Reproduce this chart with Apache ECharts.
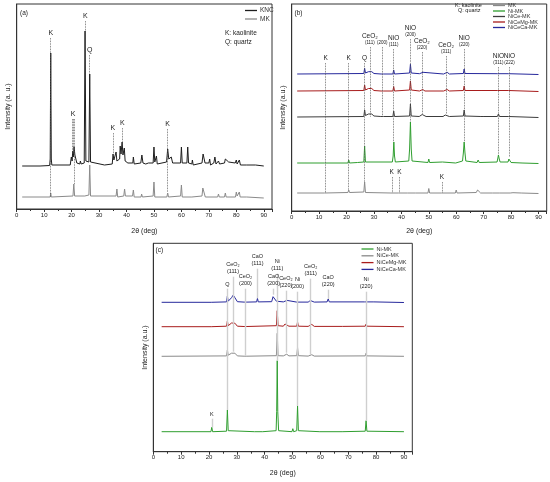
<!DOCTYPE html>
<html>
<head>
<meta charset="utf-8">
<script src="https://cdn.jsdelivr.net/npm/echarts@6/dist/echarts.min.js"></script>
<style>
  html, body { margin: 0; padding: 0; background: #fff; }
  #chart { width: 550px; height: 482px; }
</style>
</head>
<body>
<div id="chart"></div>
<script>
// ---- data: [2theta, intensity (a.u.)] ----
const knc_a = [[2,43],[8.5,43],[8.8,45],[9.1,43],[12,43.5],[12.2,50],[12.4,156],[12.6,50],[12.8,44],[19.5,44],[19.9,52],[20.2,48],[20.4,58],[20.6,52],[20.9,62],[21.2,54],[21.5,56],[21.9,46],[23,45],[23.2,48],[23.5,45],[24.6,46],[24.9,178],[25.2,48],[26.3,47],[26.6,135],[26.9,47],[27.5,45],[32,44],[34.8,45],[35.1,55],[35.4,49],[35.9,50],[36.2,57],[36.5,48],[37.5,50],[37.7,63],[38.0,55],[38.4,67],[38.7,54],[39.2,61],[39.5,48],[40.5,46],[42.3,46],[42.5,52],[42.8,45],[45.2,46],[45.6,54],[46,46],[47,45],[48,46],[49.7,46],[50,62],[50.3,47],[50.7,47],[50.9,53],[51.2,45],[54.6,47],[55,60],[55.4,50],[55.9,48],[56.3,52],[56.8,46],[57.5,45],[59.7,46],[60,62],[60.3,46],[62,46],[62.3,62],[62.6,46],[63.8,45],[64,49],[64.3,44],[67.5,46],[67.9,55],[68.2,54],[68.6,46],[70,46],[70.3,50],[70.6,44],[71.8,46],[72.2,52],[72.6,45],[73.5,48],[73.9,45],[75.7,46],[76,50],[76.6,48],[77.2,47],[77.6,45],[79.6,46],[80,49],[80.3,45],[80.8,46],[81.1,49],[81.5,44],[83.8,44],[84.1,46],[84.4,43],[87,44],[90,43]];
const mk_a = [[2,12],[12.2,12],[12.4,16],[12.6,12],[20.5,13],[20.8,25],[21.1,13],[24.8,13],[25,15],[25.2,14],[26.3,14],[26.6,44],[26.9,13],[36.2,13],[36.5,20],[36.8,12],[39,13],[39.3,20],[39.6,13],[42.2,13],[42.5,19],[42.8,12],[45.3,12],[45.5,15],[45.8,12],[49.7,13],[50,27],[50.3,12],[54.7,12],[55,16],[55.3,12],[59.7,13],[60,24],[60.3,12],[63.8,12],[64,14],[64.3,12],[67.5,13],[67.8,21],[68.3,20],[68.7,12],[73.2,12],[73.5,15],[73.8,12],[75.7,12],[76,16],[76.3,12],[79.7,12],[80,17],[80.3,13],[80.8,13],[81.1,17],[81.4,12],[83.8,12],[84,14],[84.3,12],[90,11]];

const mk_b = [[2,18],[12,18],[20.5,18.5],[20.8,21],[21.1,18.5],[26.3,19],[26.6,29],[26.9,18.5],[36.2,18],[36.5,20],[36.8,18],[39,18],[39.3,20],[39.6,18],[42.2,18],[42.5,19],[42.8,18],[45.2,18],[45.5,18.8],[45.8,18],[49.7,18],[50,22.5],[50.3,18],[54.7,18],[55,19],[55.3,18],[59.7,18],[60,21],[60.3,18],[67.3,18.5],[67.8,21],[68.4,20.5],[68.9,18],[73.2,18],[73.5,19],[73.8,18],[75.7,18],[76,19],[76.3,18],[79.7,18],[80,19],[80.3,18.3],[80.7,18.3],[81,19.5],[81.4,18],[83.7,18],[84,18.7],[84.3,18],[90,17.5]];
const nimk_b = [[2,48],[12,48],[20.5,48],[20.8,51],[21.1,48],[24,48.5],[26.3,49],[26.6,65],[26.9,49],[36.7,49],[37.0,55],[37.25,69],[37.5,55],[37.8,49],[42.7,50],[43.0,62],[43.3,89],[43.6,62],[43.9,50],[49.7,48.5],[50,52],[50.3,48.5],[55,49],[59.8,48],[60,50],[60.3,48],[62.3,50],[62.6,58],[62.9,69],[63.2,58],[63.5,50],[67.6,48.5],[68,51],[68.4,48.5],[74.9,49],[75.2,53],[75.4,56],[75.7,52],[76,49],[78.9,49],[79.2,52],[79.4,54],[79.7,51],[80,48.5],[84,48],[90,47.5]];
const nice_b = [[2,94],[26.3,94.5],[26.6,101],[26.9,95.5],[27.5,95.5],[28.0,97],[28.6,98],[29.2,97],[30,95],[32.5,94.5],[33,96],[33.5,94.5],[36.9,94.5],[37.2,100],[37.5,94.5],[43.0,95],[43.3,107],[43.6,95],[46.5,94.5],[47,96],[47.6,96.5],[48.3,95.5],[49,94.5],[55.2,94.5],[56,96],[56.6,96],[57.5,94.5],[62.6,95],[62.9,101],[63.2,95],[69,94.5],[69.4,95.5],[69.8,94.5],[75,94.5],[75.4,97],[75.8,94.5],[79.1,94.5],[79.4,96.5],[79.8,94.5],[90,93.5]];
const nicemg_b = [[2,120],[26.3,120.5],[26.6,126],[26.9,121],[27.5,121],[28.0,122.5],[28.6,123.5],[29.2,122.5],[30,120.5],[32.6,120],[33,121.5],[33.4,120],[36.9,120],[37.2,124.5],[37.5,120],[43.0,121],[43.3,130],[43.6,121],[46.6,120],[47.2,121.5],[47.8,121.5],[48.6,120],[55.4,120],[56.1,121.5],[56.7,121.5],[57.5,120],[62.6,120.5],[62.9,125],[63.2,120.5],[69.4,120.5],[75.1,120.5],[75.4,122],[75.8,120.5],[79.1,120.5],[79.4,122],[79.8,120.5],[90,119.5]];
const niceca_b = [[2,137],[26.3,137.5],[26.6,142.7],[26.9,138],[27.5,138],[28.0,139.3],[28.6,140.3],[29.2,139.3],[30,137.5],[32.6,137],[33,138],[33.4,137],[36.9,137],[37.2,141],[37.5,137],[43.0,138],[43.3,146.7],[43.6,138],[46.6,137.3],[47.3,138.7],[47.9,138.7],[48.6,137.3],[55.4,137],[56.1,138.7],[56.7,138.7],[57.5,137],[62.6,137.5],[62.9,142],[63.2,137.5],[75.1,137.3],[75.4,138.7],[75.8,137.3],[79.1,137.3],[79.4,138.3],[79.8,137.3],[90,136.5]];

const nimk_c = [[3,20],[20.7,20],[21,24.4],[21.3,20],[26.3,20.5],[26.6,41.7],[26.9,21],[36.3,20],[36.6,21.5],[36.9,20],[39.3,20],[39.6,21],[39.9,20],[44.1,21],[44.3,40],[44.5,91],[44.7,40],[45.0,21],[49.8,20],[50.1,23],[50.4,20],[51.5,21],[51.8,45.7],[52.1,21],[59.8,20],[60.1,21],[60.4,20],[67.8,20],[68.1,21],[68.4,20],[76.1,20.5],[76.4,31],[76.7,20.5],[90,20]];
const nice_c = [[3,95.4],[26.3,95.8],[26.6,101.7],[26.9,96.5],[27.6,96.5],[28.1,98.5],[28.7,99.7],[29.3,98.5],[30.2,95.8],[32.6,95.5],[33.1,97],[33.6,95.5],[44.2,96],[44.5,118.4],[44.8,96],[46.7,95.8],[47.3,97.7],[47.9,97.5],[48.7,95.8],[51.5,96],[51.8,104],[52.1,96],[55.6,95.6],[56.3,97],[56.9,97],[57.8,95.6],[76.1,95.8],[76.4,98.5],[76.7,95.8],[90,95.4]];
const nicemg_c = [[3,125],[20.8,125],[21.0,126],[21.2,125],[26.3,125.5],[26.6,130.7],[26.9,126],[27.6,126.2],[28.1,128.7],[28.7,130.5],[29.3,128.5],[30.2,125.5],[32.6,125.2],[33.1,127.2],[33.6,125.2],[44.2,126],[44.5,141],[44.8,126],[46.7,125.5],[47.3,127.7],[47.9,127.5],[48.7,125.5],[51.5,125.5],[51.8,129.7],[52.1,125.5],[55.6,125.3],[56.3,127.3],[56.9,127.3],[57.8,125.3],[68,125.3],[76.1,125.5],[76.4,127.7],[76.7,125.5],[90,125]];
const niceca_c = [[3,149.4],[20.8,149.4],[21.0,150.4],[21.2,149.4],[26.3,149.8],[26.6,155.7],[26.9,150.5],[27.6,150.7],[28.1,154],[28.7,156.7],[29.3,154],[30.2,150],[32.6,149.6],[33.1,151.5],[33.6,149.6],[37.1,149.8],[37.4,153.4],[37.7,149.8],[42.5,150],[43.0,155],[43.3,157],[43.7,153],[44.2,150.5],[44.5,152],[44.8,150],[46.7,149.8],[47.4,151.5],[48.0,151.3],[48.7,149.8],[51.5,149.6],[51.8,150.8],[52.1,149.6],[55.6,149.6],[56.4,151.2],[57,151.2],[57.8,149.6],[62.4,149.8],[62.8,152.7],[63.2,149.8],[75.8,149.8],[76.4,150.8],[77,149.8],[79.2,149.8],[79.5,150.8],[79.8,149.8],[90,149.2]];

// phase markers: [2theta, top, bottom, phase, reflection]
const marks_a = [[12.4,171,12,'K',''],[20.2,90,55,'',''],[20.55,90,55,'K',''],[20.9,90,25,'',''],[25,188,178,'K',''],[26.6,154,135,'Q',''],[35,76,53,'K',''],[38.5,81,67,'K',''],[55,80,17,'K','']];
const marks_b = [[12.4,148,18,'K',''],[20.8,148,21,'K',''],[26.6,148,29,'Q',''],[28.5,164,94,'CeO₂','(111)'],[33,164,94,'','(200)'],[37.2,162,69,'NiO','(111)'],[43.3,172,89,'NiO','(200)'],[47.5,159,97,'CeO₂','(220)'],[56.3,155,97,'CeO₂','(311)'],[62.9,162,69,'NiO','(220)'],[75.4,144,56,'NiO','(311)'],[79.4,144,54,'NiO','(222)'],[36.5,34,18,'K',''],[39.3,34,18,'K',''],[54.8,29,18,'K','']];
const marks_c = [[21,33,24.4,'K',''],[26.6,163,41.7,'Q',''],[28.6,175,100,'CeO₂','(111)'],[33.1,163,96,'CeO₂','(200)'],[37.4,183,153.4,'CaO','(111)'],[43.2,163,157,'CaO','(200)'],[44.5,178,91,'Ni','(111)'],[47.6,161,99,'CeO₂','(220)'],[51.8,160,45.7,'Ni','(200)'],[56.5,173,97,'CeO₂','(311)'],[62.8,162,152.7,'CaO','(220)'],[76.4,160,31,'Ni','(220)']];

const FONT = 'Liberation Sans, Arial, sans-serif';
const chart = echarts.init(document.getElementById('chart'), null, { renderer: 'canvas' });

function markLine(list, color, type, width, big, small) {
  return {
    silent: true,
    symbol: ['none', 'none'],
    animation: false,
    lineStyle: { color: color, type: type, width: width },
    label: {
      show: true,
      position: 'start',
      distance: 1,
      fontFamily: FONT,
      color: '#222',
      lineHeight: big + 1,
      rich: {
        m: { fontSize: big, fontFamily: FONT, color: '#222', lineHeight: big + 1 },
        s: { fontSize: small, fontFamily: FONT, color: '#222', lineHeight: small + 2 }
      }
    },
    data: list.map(m => {
      let txt = m[3] ? '{m|' + m[3] + '}' : '';
      if (m[4]) txt += (txt ? '\n' : '') + '{s|' + m[4] + '}';
      return [{ coord: [m[0], m[1]], label: { formatter: txt || ' ' } }, { coord: [m[0], m[2]] }];
    })
  };
}

function xAxis(i, gap) {
  return {
    gridIndex: i, type: 'value', min: 0, max: 93, interval: 10,
    name: '2θ (deg)', nameLocation: 'middle', nameGap: gap,
    nameTextStyle: { fontSize: 7, fontFamily: FONT, color: '#222' },
    axisLine: { lineStyle: { color: '#333', width: 1 } },
    axisTick: { length: 3, lineStyle: { color: '#333' } },
    minorTick: { show: true, splitNumber: 2, length: 2, lineStyle: { color: '#333' } },
    axisLabel: { fontSize: 6, margin: 3, color: '#222', fontFamily: FONT,
      formatter: v => (v % 10 === 0 ? String(v) : '') },
    splitLine: { show: false }
  };
}
function yAxis(i, max, name) {
  return {
    gridIndex: i, type: 'value', min: 0, max: max,
    name: name, nameLocation: 'middle', nameGap: 5,
    nameTextStyle: { fontSize: 7, fontFamily: FONT, color: '#222' },
    axisLine: { show: true, lineStyle: { color: '#333', width: 1 } },
    axisTick: { show: false }, axisLabel: { show: false }, splitLine: { show: false }
  };
}
function line(name, data, color, i, ml) {
  const s = { name: name, type: 'line', data: data, xAxisIndex: i, yAxisIndex: i,
    symbol: 'none', silent: true, animation: false,
    lineStyle: { color: color, width: 1 }, itemStyle: { color: color } };
  if (ml) s.markLine = ml;
  return s;
}
function legend(items, left, top, gap, size) {
  return {
    orient: 'vertical', left: left, top: top, itemGap: gap, padding: 0,
    icon: 'rect', itemWidth: 12, itemHeight: 1.3,
    textStyle: { fontSize: size, fontFamily: FONT, color: '#333', padding: [0, 0, 0, -2] },
    selectedMode: false,
    data: items.map(it => ({ name: it[0], itemStyle: { color: it[1] } }))
  };
}

const C = { black: '#1e1e1e', gray: '#8a8a8a', dark: '#3c3c3c', green: '#2f9e2f', red: '#a81c1c', blue: '#26289c' };

const option = {
  backgroundColor: '#fff',
  animation: false,
  grid: [
    { left: 16.7, top: 4, width: 255.3, height: 205, show: true, borderColor: '#333', borderWidth: 1 },
    { left: 291.7, top: 4, width: 255, height: 207, show: true, borderColor: '#333', borderWidth: 1 },
    { left: 153.3, top: 243.3, width: 259, height: 208.4, show: true, borderColor: '#333', borderWidth: 1 }
  ],
  xAxis: [xAxis(0, 19), xAxis(1, 17), xAxis(2, 18)],
  yAxis: [yAxis(0, 205, 'Intensity (a. u.)'), yAxis(1, 207, 'Intensity (a.u.)'), yAxis(2, 208.4, 'Intensity (a.u.)')],
  legend: [
    legend([['KNC', C.black], ['MK', C.gray]], 245, 7, 1.5, 6.5),
    legend([['MK', C.gray], ['Ni-MK', C.green], ['NiCe-MK', C.dark], ['NiCeMg-MK', C.red], ['NiCeCa-MK', C.blue]], 493, 2.5, -0.5, 5.5),
    legend([['Ni-MK', C.green], ['NiCe-MK', C.gray], ['NiCeMg-MK', C.red], ['NiCeCa-MK', C.blue]], 361.5, 246, 0.8, 5.5)
  ],
  graphic: [
    { type: 'text', left: 20, top: 10, style: { text: '(a)', fontSize: 6.5, fontFamily: FONT, fill: '#222' } },
    { type: 'text', left: 225, top: 29.5, style: { text: 'K: kaolinite', fontSize: 6.5, fontFamily: FONT, fill: '#222' } },
    { type: 'text', left: 225, top: 39, style: { text: 'Q: quartz', fontSize: 6.5, fontFamily: FONT, fill: '#222' } },
    { type: 'text', left: 294.5, top: 9.5, style: { text: '(b)', fontSize: 6.5, fontFamily: FONT, fill: '#222' } },
    { type: 'text', left: 455, top: 2, style: { text: 'K: kaolinite', fontSize: 5.5, fontFamily: FONT, fill: '#222' } },
    { type: 'text', left: 458, top: 7.5, style: { text: 'Q: quartz', fontSize: 5.5, fontFamily: FONT, fill: '#222' } },
    { type: 'text', left: 155.5, top: 246.5, style: { text: '(c)', fontSize: 6.5, fontFamily: FONT, fill: '#222' } }
  ],
  series: [
    line('KNC', knc_a, C.black, 0, markLine(marks_a, '#555', 'dotted', 0.8, 7, 5)),
    line('MK', mk_a, C.gray, 0),
    line('MK', mk_b, C.gray, 1, markLine(marks_b, '#555', 'dotted', 0.8, 6.5, 4.5)),
    line('Ni-MK', nimk_b, C.green, 1),
    line('NiCe-MK', nice_b, C.dark, 1),
    line('NiCeMg-MK', nicemg_b, C.red, 1),
    line('NiCeCa-MK', niceca_b, C.blue, 1),
    line('Ni-MK', nimk_c, C.green, 2, markLine(marks_c, '#cfcfcf', 'solid', 1.4, 5.5, 5.5)),
    line('NiCe-MK', nice_c, C.gray, 2),
    line('NiCeMg-MK', nicemg_c, C.red, 2),
    line('NiCeCa-MK', niceca_c, C.blue, 2)
  ]
};
chart.setOption(option);
</script>
</body>
</html>
